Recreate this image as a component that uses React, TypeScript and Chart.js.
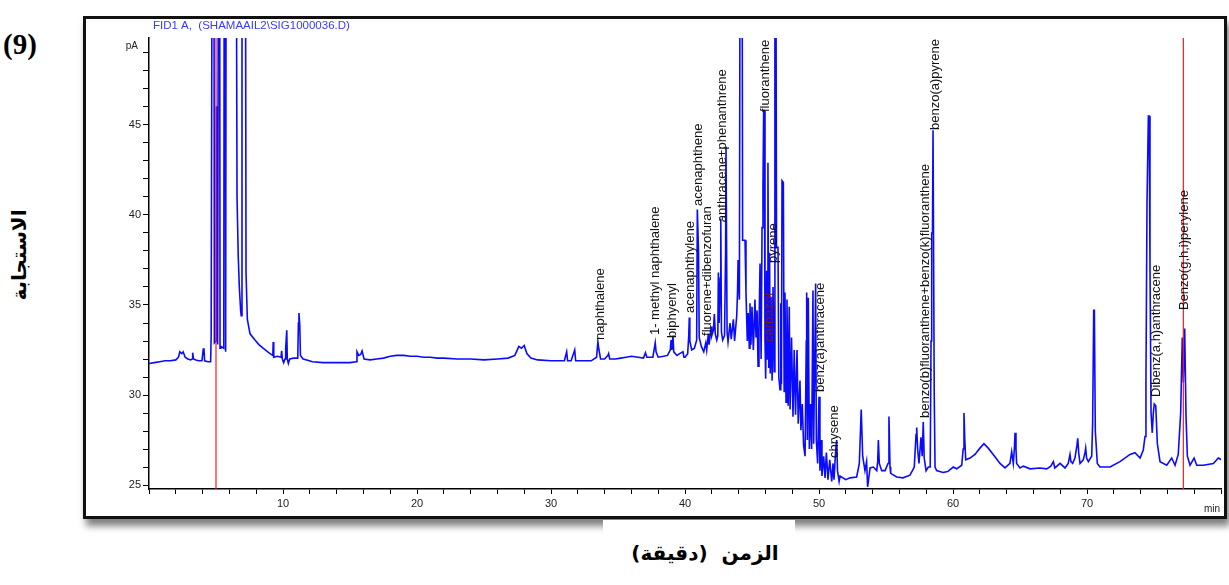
import React, { useEffect, useRef } from "react";
import { Chart, registerables } from "chart.js";

Chart.register(...registerables);

// Retention time (min) / detector response (pA) pairs
const earlyTrace: [number, number][] = [
  [0, 31.75], [0.4, 31.8], [0.8, 31.85], [1.2, 31.9], [1.6, 31.9], [2.0, 31.95], [2.2, 32.1], [2.3, 32.4],
  [2.45, 32.3], [2.55, 32.4], [2.7, 32.1], [2.9, 32.0], [3.1, 31.95], [3.22, 32.0], [3.26, 32.35], [3.32, 32.0],
  [3.5, 31.95], [3.7, 31.9], [3.95, 31.9], [4.05, 32.55], [4.1, 32.6], [4.15, 31.9], [4.4, 31.85], [4.6, 31.85],
  [4.64, 33.3], [4.72, 60], [4.84, 60], [4.88, 32.9], [5.0, 33.0], [5.03, 46.0], [5.09, 46.0], [5.12, 32.8],
  [5.19, 60], [5.27, 60], [5.3, 32.6], [5.36, 32.7], [5.58, 32.6], [5.62, 60], [5.7, 60], [5.72, 32.4],
  [5.76, 60], [6.5, 60], [6.57, 41.0], [6.66, 37.7], [6.74, 36.0], [6.84, 34.7], [6.88, 34.4], [6.94, 60],
  [7.19, 60], [7.24, 36.8], [7.34, 34.2], [7.54, 33.4], [7.91, 33.05], [8.2, 32.8], [8.51, 32.6], [9.03, 32.3],
  [9.24, 32.2], [9.27, 32.95], [9.31, 32.1], [9.6, 32.15], [9.85, 32.1], [9.9, 32.45], [9.95, 32.0], [10.05, 31.8],
  [10.15, 32.0], [10.2, 32.6], [10.28, 33.6], [10.32, 32.0], [10.4, 31.75], [10.5, 32.0], [10.8, 32.05], [11.1, 32.05],
  [11.15, 34.0], [11.19, 34.55], [11.25, 33.9], [11.3, 32.2], [11.5, 32.0], [11.77, 31.95], [12.2, 31.85],
];

const middleTrace: [number, number][] = [
  [13, 31.8], [14, 31.8], [15, 31.8], [15.45, 31.85], [15.52, 32.4], [15.65, 32.2], [15.8, 32.25], [15.9, 32.45],
  [16.05, 32.0], [16.5, 31.95], [17, 32.0], [17.5, 32.05], [18, 32.15], [18.5, 32.2], [19, 32.2], [19.5, 32.15],
  [20, 32.15], [20.5, 32.1], [21, 32.1], [21.5, 32.05], [22, 32.05], [23, 32.0], [24, 32.0], [25, 31.95],
  [26, 32.0], [26.8, 32.05], [27.3, 32.2], [27.6, 32.7], [27.8, 32.6], [28.0, 32.75], [28.2, 32.3], [28.5, 32.05],
  [29, 31.95], [30, 31.9], [31.0, 31.9], [31.17, 32.4], [31.24, 31.9], [31.5, 31.9], [31.77, 32.5], [31.84, 31.9],
  [32.5, 31.9], [33.0, 31.9], [33.4, 32.1], [33.5, 32.95], [33.58, 32.5], [33.7, 32.0], [34.0, 32.0], [34.25, 32.2],
  [34.3, 32.3], [34.38, 32.0], [34.8, 32.0], [35.2, 32.05], [35.6, 32.1], [36.0, 32.15], [36.5, 32.1], [36.9, 32.05],
  [37.05, 32.35], [37.15, 32.1], [37.6, 32.1], [37.78, 32.9], [37.84, 32.4], [38.0, 32.1], [38.4, 32.15], [38.7, 32.2],
  [38.9, 32.5], [38.96, 33.05], [39.02, 32.5], [39.1, 33.3], [39.16, 32.4], [39.4, 32.2], [39.6, 32.3], [39.85, 32.4],
  [39.92, 32.1],
];

const pahTrace: [number, number][] = [
  [40.0, 32.1], [40.2, 32.3], [40.28, 33.3], [40.32, 34.3], [40.36, 33.0], [40.5, 32.5], [40.7, 32.6], [40.87, 33.05],
  [40.92, 40.3], [40.97, 40.3], [41.01, 37.9], [41.06, 33.2], [41.22, 32.7], [41.4, 32.4], [41.55, 32.9], [41.62, 32.5],
  [41.74, 33.4], [41.8, 32.8], [41.95, 33.8], [42.0, 33.3], [42.12, 33.6], [42.19, 34.5], [42.26, 33.4], [42.37, 33.05],
  [42.45, 33.3], [42.49, 36.8], [42.55, 34.0], [42.63, 36.5], [42.67, 39.8], [42.72, 33.5], [42.81, 33.05], [42.95, 33.3],
  [43.03, 38.0], [43.06, 43.8], [43.1, 43.8], [43.14, 33.5], [43.21, 32.95], [43.36, 34.0], [43.45, 33.1], [43.61, 34.2],
  [43.7, 33.0], [43.86, 34.4], [43.92, 35.7], [43.96, 37.5], [44.06, 35.3], [44.12, 60], [44.25, 60], [44.3, 38.6],
  [44.48, 38.6], [44.55, 35.7], [44.65, 33.0], [44.72, 34.55], [44.8, 32.6], [44.85, 35.1], [44.92, 32.8], [45.0, 34.9],
  [45.1, 32.5], [45.22, 35.3], [45.3, 33.2], [45.38, 34.7], [45.45, 31.6], [45.52, 33.5], [45.6, 37.3], [45.68, 32.0],
  [45.75, 39.3], [45.82, 41.6], [45.87, 45.8], [45.92, 45.8], [45.97, 33.0], [46.02, 30.9], [46.1, 36.9], [46.15, 32.0],
  [46.19, 42.9], [46.25, 31.5], [46.31, 37.9], [46.36, 31.2], [46.42, 35.4], [46.5, 30.8], [46.57, 36.0], [46.65, 31.3],
  [46.71, 60], [46.77, 60], [46.83, 38.2], [46.94, 38.2], [47.0, 31.0], [47.09, 30.3], [47.15, 35.1], [47.2, 30.6],
  [47.24, 41.9], [47.34, 41.8], [47.4, 30.2], [47.46, 35.7], [47.54, 29.6], [47.61, 35.3], [47.7, 29.4], [47.78, 34.9],
  [47.84, 29.2], [47.95, 33.2], [48.06, 28.8], [48.15, 32.5], [48.25, 28.9], [48.36, 32.5], [48.45, 28.4], [48.58, 30.8],
  [48.65, 28.05], [48.75, 29.5], [48.85, 27.2], [48.96, 26.6], [49.05, 33.0], [49.08, 35.7], [49.13, 27.5], [49.2, 35.4],
  [49.28, 27.0], [49.36, 29.5], [49.45, 27.0], [49.55, 35.8], [49.6, 27.3], [49.7, 33.0], [49.75, 36.2], [49.8, 27.5],
  [49.9, 26.2], [50.0, 29.9], [50.07, 25.8], [50.15, 27.5], [50.22, 25.5], [50.35, 26.6], [50.45, 25.4], [50.55, 26.8],
  [50.67, 25.3], [50.8, 26.4], [50.95, 25.2], [51.05, 26.2], [51.12, 25.3], [51.25, 27.0], [51.32, 27.5], [51.38, 25.8],
  [51.5, 25.2],
];

const lateTrace: [number, number][] = [
  [51.57, 25.5], [52.0, 25.3], [52.31, 25.4], [52.81, 25.45], [53.01, 26.2], [53.15, 29.2], [53.26, 26.6], [53.43, 25.8],
  [53.55, 26.3], [53.63, 24.9], [53.81, 25.95], [54.05, 26.0], [54.31, 25.8], [54.38, 26.3], [54.43, 27.5], [54.5, 26.2],
  [54.68, 25.8], [54.93, 25.8], [55.15, 26.2], [55.22, 28.8], [55.3, 26.0], [55.35, 25.65], [55.8, 25.45], [56.27, 25.4],
  [56.79, 25.55], [57.11, 26.0], [57.24, 27.8], [57.29, 28.2], [57.36, 27.0], [57.46, 26.2], [57.61, 27.65], [57.7, 26.6],
  [57.78, 28.5], [57.85, 26.5], [57.99, 25.8], [58.16, 26.0], [58.3, 26.0], [58.36, 33.0], [58.41, 39.0], [58.47, 39.0],
  [58.51, 44.7], [58.56, 44.7], [58.6, 30.0], [58.66, 26.0], [58.78, 25.8], [59.25, 25.7], [59.6, 25.75], [60.02, 26.0],
  [60.28, 25.9], [60.65, 26.1], [60.76, 27.0], [60.82, 29.0], [60.88, 27.5], [60.95, 26.4], [61.27, 26.5], [61.64, 26.7],
  [62.01, 27.05], [62.31, 27.3], [62.63, 27.05], [63.0, 26.7], [63.51, 26.2], [63.88, 25.95], [64.25, 26.2], [64.38, 26.85],
  [64.5, 26.2], [64.58, 27.0], [64.63, 27.9], [64.7, 27.0], [64.75, 26.2], [65.0, 25.95], [65.25, 26.05], [65.75, 25.9],
  [66.49, 25.95], [66.99, 25.9], [67.3, 26.05], [67.49, 26.3], [67.6, 25.95], [67.99, 26.2], [68.36, 25.95], [68.6, 26.2],
  [68.73, 26.7], [68.8, 26.3], [68.93, 26.2], [69.1, 26.5], [69.25, 27.2], [69.31, 27.6], [69.38, 26.8], [69.48, 26.2],
  [69.72, 26.4], [69.85, 26.8], [69.9, 27.05], [69.97, 26.5], [70.1, 26.3], [70.35, 26.6], [70.42, 28.4], [70.5, 34.7],
  [70.55, 34.7], [70.62, 28.0], [70.77, 26.2], [70.97, 26.0], [71.72, 26.0], [72.46, 26.3], [73.21, 26.7], [73.58, 26.8],
  [73.96, 26.5], [74.2, 26.95], [74.33, 27.7], [74.4, 30.8], [74.48, 40.8], [74.58, 45.5], [74.64, 45.5], [74.7, 37.3],
  [74.78, 29.0], [74.87, 27.9], [74.95, 29.0], [75.02, 29.5], [75.13, 29.4], [75.25, 27.3], [75.45, 26.3], [75.95, 26.1],
  [76.32, 26.5], [76.57, 26.1], [76.81, 26.7], [76.99, 29.0], [77.11, 33.2], [77.19, 30.7], [77.29, 33.7], [77.39, 28.8],
  [77.49, 26.6], [77.69, 26.1], [77.99, 26.5], [78.19, 26.1], [78.68, 26.1], [79.43, 26.2], [79.8, 26.5], [80.05, 26.4],
];

// Red event markers (min)
const markerTimes = [5.0, 77.19];

// Peak annotations: name, retention time, response where the label starts
const peakNames = [
  "naphthalene", "1- methyl naphthalene", "biphyenyl", "acenaphthylene", "acenaphthene",
  "fluorene+dibenzofuran", "anthracene+phenanthrene", "fluoranthene", "carbazol", "pyrene",
  "benz(a)anthracene", "chrysene", "benzo(b)fluoranthene+benzo(k)fluoranthene", "benzo(a)pyrene",
  "Dibenz(a,h)anthracene", "Benzo(g,h,i)perylene",
];
const peakTimes = [33.66, 37.76, 39.03, 40.37, 40.97, 41.64, 42.76, 45.97, 46.27, 46.57, 50.07, 51.12, 57.91, 58.66, 75.15, 77.24];
const peakLabelBase = [33.06, 33.33, 33.17, 34.56, 40.5, 33.28, 39.6, 45.72, 32.94, 37.33, 30.17, 26.5, 28.72, 44.72, 29.89, 34.72];

const yMin = 24.78;
const yMax = 49.83;
const xMin = 0;
const xMax = 80;

const FONT = "'Liberation Sans', Arial, sans-serif";

const annotationPlugin = {
  id: "chromAnnotations",
  afterDatasetsDraw(chart: any) {
    const { ctx, chartArea, scales } = chart;
    const xs = scales.x;
    const ys = scales.y;
    ctx.save();
    ctx.font = `13px ${FONT}`;
    ctx.textAlign = "left";
    ctx.textBaseline = "middle";
    peakNames.forEach((name, i) => {
      const px = xs.getPixelForValue(peakTimes[i]);
      const py = ys.getPixelForValue(peakLabelBase[i]);
      ctx.save();
      ctx.translate(px, py);
      ctx.rotate(-Math.PI / 2);
      ctx.fillStyle = name === "carbazol" ? "#7a1a1a" : "#111";
      ctx.fillText(name, 0, 0);
      ctx.restore();
    });
    // title
    ctx.fillStyle = "#3a3aff";
    ctx.font = `11.5px ${FONT}`;
    ctx.textBaseline = "middle";
    ctx.fillText("FID1 A,  (SHAMAAIL2\\SIG1000036.D)", chartArea.left + 4, 7);
    // unit labels
    ctx.fillStyle = "#222";
    ctx.font = `10px ${FONT}`;
    ctx.textAlign = "right";
    ctx.fillText("pA", chartArea.left - 11, chartArea.top + 8);
    ctx.fillText("min", chartArea.right - 1, chartArea.bottom + 20);
    ctx.restore();
  },
};

export default function App() {
  const canvasRef = useRef<HTMLCanvasElement | null>(null);

  useEffect(() => {
    if (!canvasRef.current) return;
    const trace = [...earlyTrace, ...middleTrace, ...pahTrace, ...lateTrace].map(([x, y]) => ({ x, y }));
    const markerSets = markerTimes.map((t) => ({
      data: [
        { x: t, y: yMin },
        { x: t, y: yMax },
      ],
      borderColor: "#ff1a1a",
      borderWidth: 1.2,
      pointRadius: 0,
      tension: 0,
    }));
    const chart = new Chart(canvasRef.current, {
      type: "line",
      data: {
        datasets: [
          ...markerSets,
          {
            data: trace,
            borderColor: "#0a0aff",
            borderWidth: 1.6,
            pointRadius: 0,
            tension: 0,
          },
        ],
      },
      options: {
        responsive: false,
        animation: false,
        events: [],
        layout: { padding: { top: 19, right: 2, left: 0, bottom: 0 } },
        plugins: { legend: { display: false }, tooltip: { enabled: false } },
        scales: {
          x: {
            type: "linear",
            min: xMin,
            max: xMax,
            afterFit: (s: any) => {
              s.height = 27;
            },
            grid: { drawOnChartArea: false, drawTicks: true, tickLength: 5, tickColor: "#000" },
            border: { color: "#000", width: 1.5 },
            ticks: {
              stepSize: 2,
              autoSkip: false,
              maxRotation: 0,
              padding: 3,
              color: "#222",
              font: { family: FONT, size: 11 },
              callback: (v: any) => (v % 10 === 0 && v > 0 && v < 80 ? String(v) : ""),
            },
          },
          y: {
            min: yMin,
            max: yMax,
            afterFit: (s: any) => {
              s.width = 63;
            },
            grid: { drawOnChartArea: false, drawTicks: true, tickLength: 6, tickColor: "#000" },
            border: { color: "#000", width: 1.5 },
            ticks: {
              stepSize: 1,
              includeBounds: false,
              autoSkip: false,
              padding: 2,
              color: "#222",
              font: { family: FONT, size: 11 },
              callback: (v: any) => (Math.abs(v % 5) < 1e-6 ? String(v) : ""),
            },
          },
        },
      },
      plugins: [annotationPlugin],
    } as any);
    return () => chart.destroy();
  }, []);

  return (
    <div style={{ position: "absolute", left: 0, top: 0, width: 1229, height: 585, background: "#fff", overflow: "hidden" }}>
      <div
        style={{
          position: "absolute",
          left: 3,
          top: 28,
          font: "bold 29px 'Liberation Serif', 'Times New Roman', serif",
          color: "#000",
        }}
      >
        (9)
      </div>
      <div
        style={{
          position: "absolute",
          left: 83,
          top: 16,
          width: 1144,
          height: 503,
          boxSizing: "border-box",
          border: "3px solid #111",
          background: "#fff",
          boxShadow: "3px 7px 7px rgba(0,0,0,0.5)",
        }}
      >
        <canvas ref={canvasRef} width={1138} height={497} style={{ display: "block", width: 1138, height: 497 }} />
      </div>
      <div style={{ position: "absolute", left: 603, top: 520, width: 192, height: 14, background: "#fff" }} />
      <div
        dir="rtl"
        style={{
          position: "absolute",
          left: 705,
          top: 553,
          transform: "translate(-50%, -50%)",
          whiteSpace: "pre",
          font: "bold 20px 'DejaVu Sans', sans-serif",
          color: "#000",
        }}
      >
        {"الزمن  (دقيقة)"}
      </div>
      <div
        dir="rtl"
        style={{
          position: "absolute",
          left: 19,
          top: 255,
          transform: "translate(-50%, -50%) rotate(-90deg)",
          whiteSpace: "nowrap",
          font: "bold 20px 'DejaVu Sans', sans-serif",
          color: "#000",
        }}
      >
        الاستجابة
      </div>
    </div>
  );
}
